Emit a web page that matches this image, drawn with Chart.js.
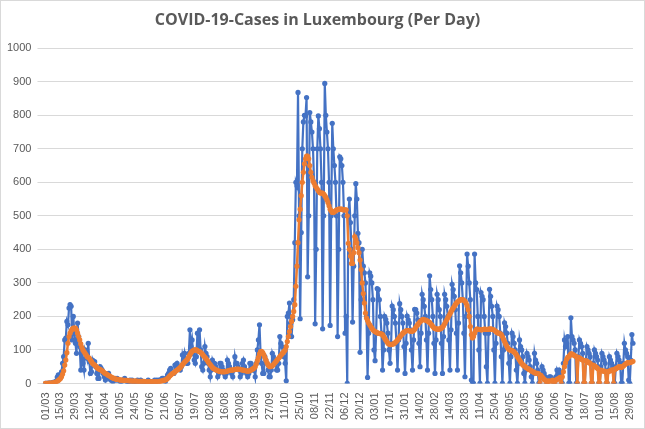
<!DOCTYPE html>
<html><head><meta charset="utf-8">
<script src="https://cdn.jsdelivr.net/npm/chart.js@4/dist/chart.umd.min.js"></script>
<style>html,body{margin:0;padding:0;background:#fff}#w{position:absolute;left:0;top:0;width:643px;height:427px;border:1px solid #d9d9d9}</style>
</head><body><div id="w"><canvas id="c"></canvas></div>
<script>
const startDate = [2020, 3, 1];
const dailyCases = [
0,0,0,1,1,0,1, 3,3,5,7,19,26,25, 20,35,60,80,130,135,185, 175,225,235,230,130,200,150,
120,90,180,140,110,40,100, 60,40,100,90,75,120,65, 30,35,70,60,65,50,30, 15,15,50,45,40,30,20,
10,20,25,30,15,10,10, 5,10,15,10,15,10,10, 5,5,10,10,15,10,5, 5,5,10,5,10,5,5,
5,5,10,5,5,10,5, 5,5,5,5,5,10,5, 5,5,5,5,10,5,10, 5,10,10,10,15,15,10,
5,15,25,30,40,45,30, 30,30,55,50,60,50,45, 40,50,85,70,90,70,60, 60,90,160,110,130,90,70,
60,80,150,110,160,100,50, 40,60,110,90,80,60,40, 20,40,70,60,60,50,40, 20,30,60,60,50,40,30,
20,30,70,60,50,40,30, 20,40,80,60,60,50,40, 20,30,60,70,50,40,30, 20,30,60,60,50,40,40,
20,60,100,130,175,90,60, 30,30,80,70,60,40,20, 20,40,90,80,70,60,40, 40,60,140,120,110,90,80,
60,8,200,210,240,180,140, 190,250,420,600,590,868,500, 193,450,700,780,800,798,853, 318,500,808,780,750,700,600,
178,400,700,798,760,700,600, 163,500,895,800,750,700,600, 173,500,776,700,650,600,500, 140,400,676,670,650,600,500,
150,200,0,500,550,480,400, 183,350,500,596,550,448,420, 93,250,400,350,330,300,200, 18,150,330,320,300,250,100,
68,150,283,280,250,200,150, 40,100,200,191,180,150,100, 60,120,231,220,200,180,120, 40,130,238,220,200,180,110,
30,120,201,190,180,160,100, 40,130,221,220,210,190,120, 50,150,266,250,230,200,130, 40,150,321,280,250,200,120,
30,130,266,250,220,200,120, 30,140,266,250,230,200,130, 40,160,296,280,260,220,150, 40,180,351,330,300,250,150,
20,200,386,350,300,250,10, 0,0,386,300,280,200,100, 0,271,260,250,200,150,50, 0,150,281,260,230,200,100,
0,120,231,220,200,150,80, 0,100,181,170,150,120,60, 0,80,150,140,120,100,40, 0,60,130,110,100,80,30,
0,40,90,80,70,50,20, 0,30,90,70,60,40,0, 0,20,50,40,30,20,0, 0,10,20,20,15,10,0,
0,20,40,30,40,30,0, 0,60,130,110,120,140,0, 0,196,140,130,120,100,0, 0,80,130,120,110,90,0,
0,70,110,100,90,80,0, 0,60,100,90,80,70,0, 0,50,90,80,70,60,0, 0,40,80,70,60,50,0,
0,50,90,80,70,60,0, 0,60,120,100,90,80,10, 0,70,146,120
];
const movingAverage = [
0,0,0,0,1,1,1, 2,2,3,4,6,9,12, 15,20,28,38,55,70,92, 120,140,150,158,162,165,165,
165,160,150,140,130,118,108, 100,95,90,85,80,78,75, 70,65,60,57,55,52,48, 45,43,42,40,38,35,32,
30,28,26,24,22,20,18, 16,15,14,13,12,12,11, 10,10,10,9,9,9,9, 8,8,8,7,7,7,7,
7,7,6,6,6,6,6, 6,6,5,5,5,5,5, 5,5,5,5,5,5,5, 5,5,6,7,8,9,10,
10,12,15,18,22,25,28, 30,32,35,38,40,42,45, 48,52,56,60,64,67,70, 74,80,86,92,96,98,100,
100,100,98,96,95,93,90, 86,82,78,74,70,65,60, 56,52,48,45,43,41,40, 38,37,36,35,35,35,35,
35,36,37,38,39,40,40, 40,41,42,42,43,43,42, 42,41,40,40,39,38,37, 37,37,38,40,42,44,46,
50,58,68,78,88,95,96, 92,86,78,70,62,56,52, 50,51,53,56,60,64,68, 72,76,80,84,88,92,96,
100,110,125,140,155,170,185, 200,215,235,290,350,420,488, 520,560,600,630,655,670,678, 678,670,650,630,615,605,598,
590,585,580,575,570,568,568, 568,565,560,555,548,540,530, 520,515,510,510,512,515,518, 518,520,520,520,520,518,518,
518,518,500,418,400,380,358, 358,390,438,430,420,405,390, 368,340,300,268,240,210,195, 188,180,175,170,165,160,157,
155,153,151,150,149,148,148, 146,140,135,130,125,120,118, 116,116,117,118,120,123,126, 130,134,138,142,146,150,153,
155,157,158,158,157,156,156, 156,158,162,167,172,176,180, 184,187,190,191,190,189,188, 186,184,182,178,174,170,166,
164,163,162,162,162,163,165, 168,172,178,184,190,196,202, 208,214,220,225,230,235,240, 243,246,248,250,250,250,248,
246,240,232,220,200,170,145, 136,140,150,158,162,162,161, 161,160,160,161,162,162,161, 161,162,162,163,162,161,160,
158,155,152,150,150,148,146, 140,132,125,118,112,106,102, 100,99,98,96,94,90,86, 80,75,70,65,60,56,53,
51,48,46,44,42,40,38, 36,34,32,31,30,30,28, 0,24,20,16,12,10,0, 0,8,6,6,8,10,0,
0,10,12,14,16,18,0, 20,35,50,62,72,78,80, 84,88,88,86,84,82,80, 0,78,76,74,72,70,0,
0,68,66,64,62,60,0, 0,55,52,50,48,45,0, 0,40,38,37,37,36,0, 0,36,37,38,40,41,0,
42,44,46,48,50,50,48, 50,52,55,58,60,62,62, 62,63,65,66
];
const yTicks = [0,100,200,300,400,500,600,700,800,900,1000];

const labels = dailyCases.map((_, i) => {
  const d = new Date(startDate[0], startDate[1]-1, startDate[2] + i);
  return String(d.getDate()).padStart(2,'0') + '/' + String(d.getMonth()+1).padStart(2,'0');
});

new Chart(document.getElementById('c'), {
  type: 'line',
  data: { labels, datasets: [
    { label:'Moving average', data: movingAverage, borderColor:'#ED7D31', backgroundColor:'#ED7D31',
      borderWidth:2.5, pointRadius:2.6, pointBorderWidth:0, tension:0, order:0 },
    { label:'Cases', data: dailyCases, borderColor:'#4472C4', backgroundColor:'#4472C4',
      borderWidth:2.2, pointRadius:2.6, pointBorderWidth:0, tension:0, order:1 }
  ]},
  options: {
    responsive:true, maintainAspectRatio:false, animation:false,
    layout:{ padding:{ left:0, right:10, top:4, bottom:7 } },
    plugins:{ legend:{display:false}, tooltip:{enabled:false},
      title:{ display:true, text:'COVID-19-Cases in Luxembourg (Per Day)', color:'#595959',
        font:{ family:'"Open Sans", sans-serif', size:16, weight:'bold' }, padding:{top:6,bottom:18} } },
    scales:{
      x:{ offset:false, grid:{display:false}, border:{color:'#d9d9d9'},
        ticks:{ autoSkip:false, maxRotation:90, minRotation:90, color:'#595959', padding:1,
          font:{ family:'"Liberation Sans", sans-serif', size:11 },
          callback:(v,i)=> i%14===0 ? labels[i] : null } },
      y:{ min:0, max:1000, afterBuildTicks:(ax)=>{ ax.ticks = yTicks.map(v=>({value:v})); },
        grid:{ color:'#d9d9d9' }, border:{display:false},
        ticks:{ color:'#595959', padding:6, callback:(v)=>String(v), font:{ family:'"Liberation Sans", sans-serif', size:11 } } }
    }
  }
});
</script></body></html>
